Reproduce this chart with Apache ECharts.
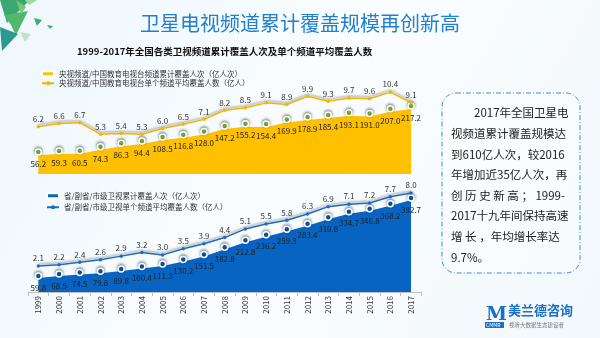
<!DOCTYPE html>
<html><head><meta charset="utf-8">
<script src="https://cdn.jsdelivr.net/npm/echarts@6/dist/echarts.min.js"></script>
<style>html,body{margin:0;padding:0;background:#fff}#c{width:600px;height:338px}</style>
</head><body><div id="c"></div>
<script>
const years = ['1999','2000','2001','2002','2003','2004','2005','2006','2007','2008','2009','2010','2011','2012','2013','2014','2015','2016','2017'];
const cctvTotal = [56.2,59.3,60.5,74.3,86.3,94.4,108.5,116.8,128.0,147.2,155.2,154.4,169.9,178.9,185.4,193.1,191.0,207.0,217.2];
const cctvAvg = [6.2,6.6,6.7,5.3,5.4,5.3,6.0,6.5,7.1,8.2,8.5,9.1,8.9,9.9,9.3,9.7,9.6,10.4,9.1];
const provTotal = [59.8,68.5,74.5,79.8,89.8,100.4,111.3,130.2,151.5,182.8,212.8,236.2,259.3,283.4,310.8,334.7,346.8,368.2,392.7];
const provAvg = [2.1,2.2,2.4,2.6,2.9,3.2,3.0,3.5,3.9,4.4,5.1,5.5,5.8,6.3,6.9,7.1,7.2,7.7,8.0];
const names = ['央视频道/中国教育电视台频道累计覆盖人次（亿人次）','央视频道/中国教育电视台单个频道平均覆盖人数（亿人）','省/副省/市级卫视累计覆盖人次（亿人次）','省/副省/市级卫视单个频道平均覆盖人数（亿人）'];
const boxLines = ['2017年全国卫星电','视频道累计覆盖规模达','到610亿人次，较2016','年增加近35亿人次，再','创 历 史 新 高 ； 1999-','2017十九年间保持高速','增 长 ，年均增长率达','9.7%。'];

const FONT = "'Noto Sans CJK SC','Noto Sans',sans-serif";
const chart = echarts.init(document.getElementById('c'));
const fmt = p => Number(p.value).toFixed(1);
const ORANGE = '#FFC000', BLUE = '#0864C2', LBLUE = '#1a6cc6';

const graphic = [
  {type:'polygon', shape:{points:[[0,0],[30,0],[7,23]]}, style:{fill:'#3aa872'}},
  {type:'polygon', shape:{points:[[4,15],[28,11],[16,35],[11,25]]}, style:{fill:'#4fb86a'}},
  {type:'polygon', shape:{points:[[0,27],[18,34],[2,51]]}, style:{fill:'#2b9a8e'}},
  {type:'polygon', shape:{points:[[16,0],[26,7],[21,14]]}, style:{fill:'#7cc576'}},
  {type:'polygon', shape:{points:[[34,18],[42,20],[37,26]]}, style:{fill:'#3fae6e'}},
  {type:'polygon', shape:{points:[[20,32],[31,34],[25,42]]}, style:{fill:'#bfe3cc'}},
  {type:'polygon', shape:{points:[[47,25],[53,26],[50,29]]}, style:{fill:'#3fae6e'}},
  {type:'polygon', shape:{points:[[25,0],[37,0],[29,5]]}, style:{fill:'#9fd7a0'}},
  {type:'text', left:'center', top:13, style:{text:'卫星电视频道累计覆盖规模再创新高', font:'20px '+FONT, fill:'#1f7fd0'}},
  {type:'text', left:77, top:47, style:{text:'1999-2017年全国各类卫视频道累计覆盖人次及单个频道平均覆盖人数', font:'bold 9.5px '+FONT, fill:'#111'}},
  {type:'rect', shape:{x:442,y:93,width:138,height:180,r:14}, style:{fill:'rgba(255,255,255,0.35)', stroke:'#3d8fd6', lineWidth:1, lineDash:[5,2,1,2]}},
  {type:'text', left:486, top:306, style:{text:'M', font:'bold 19px "DejaVu Serif",serif', fill:'#1a6fc9'}},
  {type:'rect', shape:{x:485,y:322,width:19,height:6}, style:{fill:'#1a6fc9'}},
  {type:'text', left:486, top:322.5, style:{text:'CMMR', font:'5px '+FONT, fill:'#fff'}},
  {type:'text', left:508, top:304, style:{text:'美兰德咨询', font:'bold 13px '+FONT, fill:'#1a6fc9'}},
  {type:'text', left:509, top:322, style:{text:'视听大数据生态建设者', font:'5.5px '+FONT, fill:'#777'}}
];
boxLines.forEach((t,i)=>{
  graphic.push({type:'text', x:(i===0?474:451), y:113+i*20.6, style:{text:t, font:'11.5px '+FONT, fill:'#222', textVerticalAlign:'middle'}});
});

const lineLabel = {show:true, position:'top', distance:2, fontSize:8, color:'#333', formatter:fmt};
const areaLabel = {show:true, position:'bottom', distance:4, fontSize:8, color:'#222', formatter:fmt};

chart.setOption({
  animation:false,
  backgroundColor:{type:'linear',x:0,y:0,x2:1,y2:1,colorStops:[{offset:0,color:'#eef7fc'},{offset:0.5,color:'#fafdff'},{offset:1,color:'#f2f8fc'}]},
  textStyle:{fontFamily:FONT},
  graphic: graphic,
  legend:[
    {left:36, top:65, orient:'vertical', itemGap:2, itemWidth:12, itemHeight:5, textStyle:{fontSize:7.5, color:'#333'},
     data:[{name:names[0], icon:'rect', itemStyle:{color:ORANGE}}, {name:names[1]}]},
    {left:41, top:187, orient:'vertical', itemGap:4, itemWidth:12, itemHeight:5, textStyle:{fontSize:7.5, color:'#333'},
     data:[{name:names[2], icon:'rect', itemStyle:{color:BLUE}}, {name:names[3]}]}
  ],
  grid:[
    {left:28, right:178.6, top:88, bottom:164},
    {left:28, right:178.6, top:185, bottom:46}
  ],
  xAxis:[
    {type:'category', gridIndex:0, data:years, show:false},
    {type:'category', gridIndex:1, data:years,
     axisLine:{lineStyle:{color:'#bfbfbf'}}, axisTick:{show:true, length:4, lineStyle:{color:'#bfbfbf'}},
     axisLabel:{rotate:90, fontSize:8, color:'#333', margin:4}}
  ],
  yAxis:[
    {type:'value', gridIndex:0, min:0.48, max:10.9, show:false, splitLine:{show:false}},
    {type:'value', gridIndex:0, min:-10.5, max:290.5, show:false, splitLine:{show:false}},
    {type:'value', gridIndex:1, min:0, max:8.65, show:false, splitLine:{show:false}},
    {type:'value', gridIndex:1, min:0, max:457, show:false, splitLine:{show:false}}
  ],
  series:[
    {name:names[0], type:'line', xAxisIndex:0, yAxisIndex:1, data:cctvTotal, z:2,
     areaStyle:{color:ORANGE, opacity:1, origin:'start'}, lineStyle:{width:0, color:ORANGE},
     symbol:'circle', symbolSize:6, showAllSymbol:true, symbolOffset:[0,-3],
     itemStyle:{color:'#8DC63F', borderColor:'#fff', borderWidth:1.5, shadowBlur:3, shadowOffsetY:-1, shadowColor:'rgba(0,0,0,0.5)'},
     label:areaLabel},
    {name:names[1], type:'line', xAxisIndex:0, yAxisIndex:0, data:cctvAvg, z:3,
     lineStyle:{width:1.5, color:'#F5B400', shadowColor:'rgba(110,110,110,0.55)', shadowBlur:2, shadowOffsetY:-2},
     symbol:'circle', symbolSize:3.5, itemStyle:{color:'#F5B400'}, label:lineLabel},
    {name:names[2], type:'line', xAxisIndex:1, yAxisIndex:3, data:provTotal, z:2,
     areaStyle:{color:BLUE, opacity:1, origin:'start'}, lineStyle:{width:0, color:BLUE},
     symbol:'circle', symbolSize:6, showAllSymbol:true, symbolOffset:[0,-2],
     itemStyle:{color:BLUE, borderColor:'#fff', borderWidth:1.5, shadowBlur:3, shadowOffsetY:-1, shadowColor:'rgba(0,0,0,0.5)'},
     label:areaLabel},
    {name:names[3], type:'line', xAxisIndex:1, yAxisIndex:2, data:provAvg, z:3,
     lineStyle:{width:1.5, color:LBLUE, shadowColor:'rgba(110,110,110,0.55)', shadowBlur:2, shadowOffsetY:-2},
     symbol:'circle', symbolSize:3.5, itemStyle:{color:LBLUE}, label:lineLabel}
  ]
});
</script></body></html>
